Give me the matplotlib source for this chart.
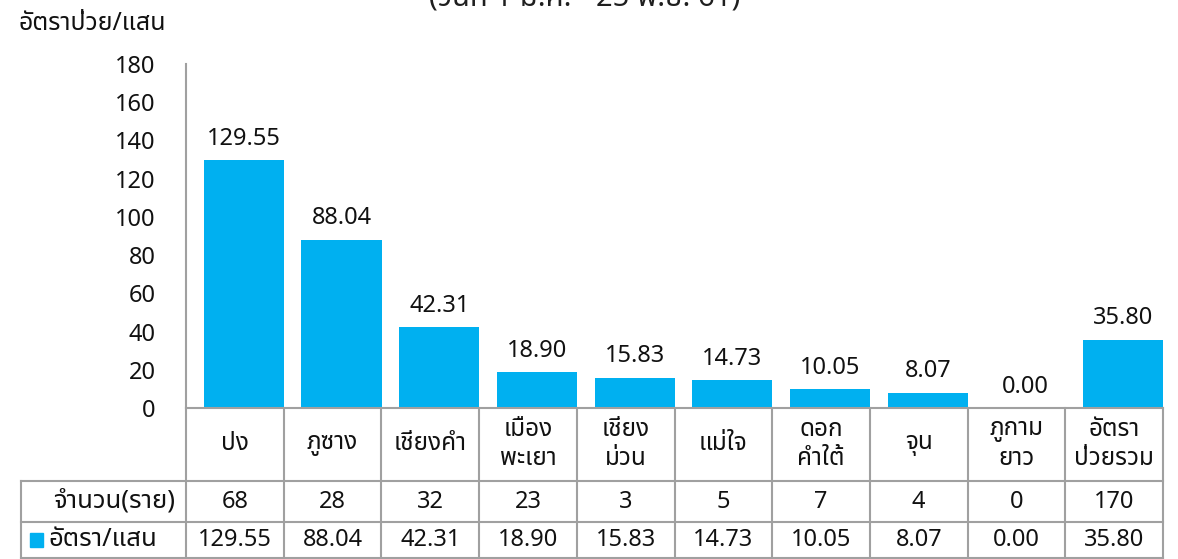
import matplotlib
matplotlib.use("Agg")
import matplotlib.pyplot as plt
from matplotlib import font_manager
from matplotlib.ft2font import FT2Font
from matplotlib.transforms import blended_transform_factory
from matplotlib.patches import Rectangle

# ── Data ──────────────────────────────────────────────────────────────────────
districts = ["ปง", "ภูซาง", "เชียงคำ", "เมือง\nพะเยา", "เชียง\nม่วน",
             "แม่ใจ", "ดอก\nคำใต้", "จุน", "ภูกาม\nยาว", "อัตรา\nป่วยรวม"]
cases = [68, 28, 32, 23, 3, 5, 7, 4, 0, 170]
rates = [129.55, 88.04, 42.31, 18.90, 15.83, 14.73, 10.05, 8.07, 0.00, 35.80]
yticks = [0, 20, 40, 60, 80, 100, 120, 140, 160, 180]

title_text = "(วันที่ 1 ม.ค. - 25 พ.ย. 61)"
ylabel_text = "อัตราป่วย/แสน"
row_cases = "จำนวน(ราย)"
row_rates = "อัตรา/แสน"

BLUE = "#00B0F0"
GRID = "#a0a0a0"
INK = "#111111"


# ── Pick a font that can draw Thai ────────────────────────────────────────────
def find_thai_font():
    prefer = ["Tahoma", "Noto Sans Thai", "Noto Sans Thai UI", "Loma", "Garuda",
              "Sarabun", "TH Sarabun New", "Norasi", "Umpush", "Waree", "Kinnari"]
    found = []
    for f in font_manager.fontManager.ttflist:
        try:
            if 0x0E01 in FT2Font(f.fname).get_charmap():
                found.append(f.name)
        except Exception:
            pass
    for p in prefer:
        if p in found:
            return p
    return found[0] if found else None


thai = find_thai_font()
plt.rcParams["font.family"] = [thai, "DejaVu Sans"] if thai else ["DejaVu Sans"]
plt.rcParams["text.color"] = INK
plt.rcParams["ytick.color"] = INK

# ── Layout (pixels of the 1178x559 canvas) ────────────────────────────────────
W, H = 1178, 559
AX_L, AX_R = 186, 1163
Y_TOP, Y_ZERO = 64, 408
ROWS = [408, 481, 522, 558]
TABLE_L = 21
BAR_SHIFT = 9          # bars sit a little right of the table column centres


def fy(py):
    return 1 - py / H


fig = plt.figure(figsize=(W / 100, H / 100), dpi=100)
ax = fig.add_axes([AX_L / W, fy(Y_ZERO), (AX_R - AX_L) / W, (Y_ZERO - Y_TOP) / H])

n = len(districts)
col_px = (AX_R - AX_L) / n
d = BAR_SHIFT / col_px
x = list(range(n))
bars = ax.bar(x, rates, width=0.82, color=BLUE, zorder=2)

ax.set_xlim(-0.5 - d, n - 0.5 - d)
ax.set_ylim(0, 180)
ax.set_yticks(yticks)
ax.set_xticks([])
ax.tick_params(axis="y", length=0, pad=22, labelsize=17)
for s in ["top", "right", "bottom"]:
    ax.spines[s].set_visible(False)
ax.spines["left"].set_color(GRID)
ax.spines["left"].set_linewidth(1.5)

for b, v in zip(bars, rates):
    ax.annotate(f"{v:.2f}", (b.get_x() + b.get_width() / 2, v),
                xytext=(0, 11), textcoords="offset points",
                ha="center", va="baseline", fontsize=17)

# ── Data table below the bars ─────────────────────────────────────────────────
tr = blended_transform_factory(ax.transData, fig.transFigure)
x0 = -0.5 - d                      # left edge of first column
x_left = x0 - (AX_L - TABLE_L) / col_px

line_kw = dict(transform=tr, clip_on=False, color=GRID, lw=1.5)
for k in range(n + 1):
    ax.plot([x0 + k, x0 + k], [fy(ROWS[0]), fy(ROWS[-1])], **line_kw)
ax.plot([x_left, x_left], [fy(ROWS[1]), fy(ROWS[-1])], **line_kw)
ax.plot([x0, x0 + n], [fy(ROWS[0]), fy(ROWS[0])], **line_kw)
for r in ROWS[1:]:
    ax.plot([x_left, x0 + n], [fy(r), fy(r)], **line_kw)

y_cat = fy((ROWS[0] + ROWS[1]) / 2)
y_cases = fy((ROWS[1] + ROWS[2]) / 2)
y_rates = fy((ROWS[2] + ROWS[3]) / 2)

for i, name in enumerate(districts):
    cx = x0 + i + 0.5
    ax.text(cx, y_cat, name, transform=tr, ha="center", va="center",
            multialignment="center", linespacing=1.25, fontsize=17.5)
    ax.text(cx, y_cases, str(cases[i]), transform=tr, ha="center",
            va="center", fontsize=17)
    ax.text(cx, y_rates, f"{rates[i]:.2f}", transform=tr, ha="center",
            va="center", fontsize=17)

ax.text(x0 - (AX_L - 175) / col_px, y_cases, row_cases, transform=tr,
        ha="right", va="center", fontsize=18.5)
ax.text(x0 - (AX_L - 48) / col_px, y_rates, row_rates, transform=tr,
        ha="left", va="center", fontsize=18.5)
fig.add_artist(Rectangle((30 / W, fy(547)), 13 / W, 14 / H,
                         transform=fig.transFigure, color=BLUE))

# ── Titles ────────────────────────────────────────────────────────────────────
fig.text(585 / W, fy(6), title_text, ha="center", va="baseline",
         fontsize=21, fontweight="bold", color="#1f1f1f")
fig.text(18 / W, fy(24), ylabel_text, ha="left", va="center", fontsize=18)

fig.savefig("out.png", dpi=100, facecolor="white")
